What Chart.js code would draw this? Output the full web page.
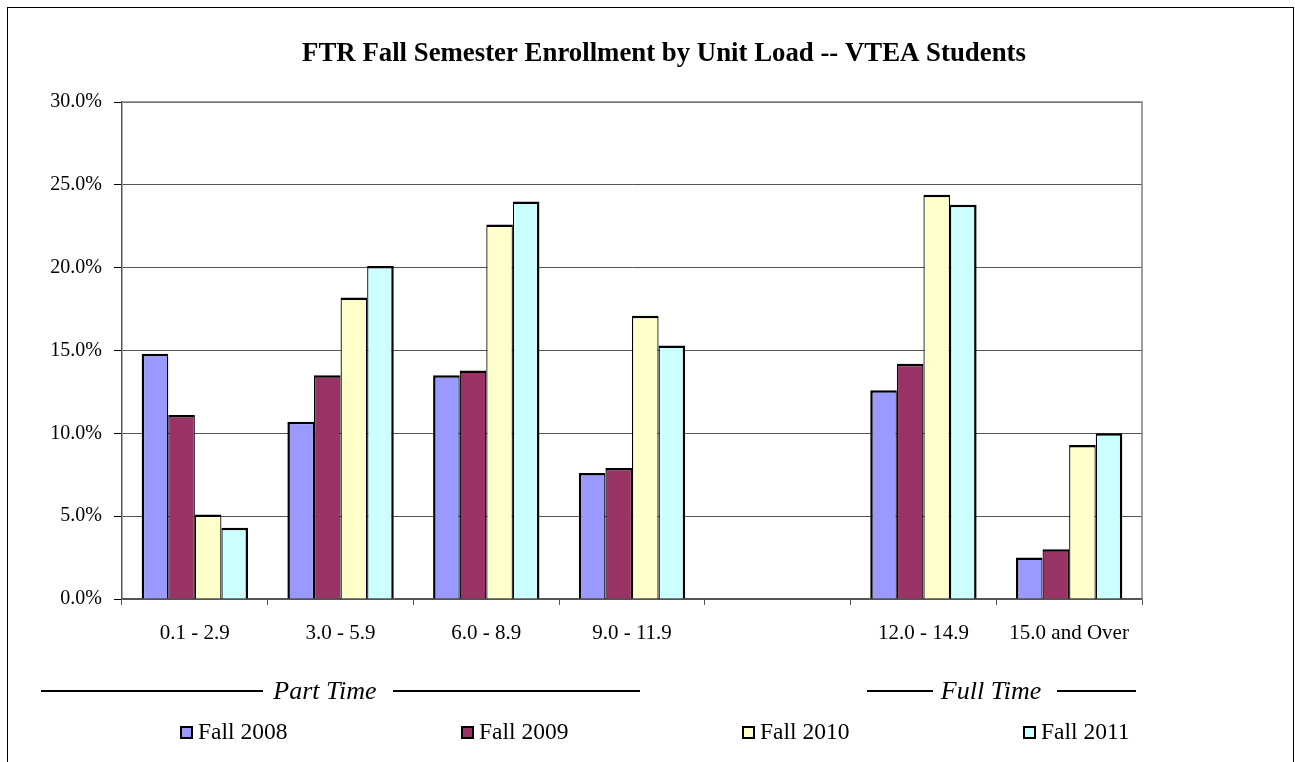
<!DOCTYPE html>
<html lang="en">
<head>
<meta charset="UTF-8">
<title>FTR Fall Semester Enrollment by Unit Load -- VTEA Students</title>
<script src="https://cdn.jsdelivr.net/npm/chart.js"></script>
<style>
    html, body { margin: 0; padding: 0; background: #fff; }
    .chart-container { width: 1295px; height: 762px; position: relative; }
</style>
</head>
<body>
<div class="chart-container">
    <canvas id="enrollChart" width="1295" height="762"></canvas>
</div>
<script>
const categories = ['0.1 - 2.9', '3.0 - 5.9', '6.0 - 8.9', '9.0 - 11.9', '', '12.0 - 14.9', '15.0 and Over'];
const fall2008 = [14.8, 10.7, 13.5, 7.6, null, 12.6, 2.5];
const fall2009 = [11.1, 13.5, 13.8, 7.9, null, 14.2, 3.0];
const fall2010 = [5.1, 18.2, 22.6, 17.1, null, 24.4, 9.3];
const fall2011 = [4.3, 20.1, 24.0, 15.3, null, 23.8, 10.0];
const seriesNames = ['Fall 2008', 'Fall 2009', 'Fall 2010', 'Fall 2011'];
const seriesColors = ['#9999FF', '#993366', '#FFFFCC', '#CCFFFF'];
const yMin = 0, yMax = 30, yStep = 5;
const titleText = 'FTR Fall Semester Enrollment by Unit Load -- VTEA Students';

const serif = "'Liberation Serif', 'Times New Roman', serif";

// bars touch inside a group, so neighbours share the outline between them
function sideWidths(i) {
    return {
        left: i === 0 ? 2.5 : 1.25,
        right: i === seriesNames.length - 1 ? 2.5 : 1.25,
        top: 2.5,
        bottom: 0
    };
}

const allSeries = [fall2008, fall2009, fall2010, fall2011];
const datasets = allSeries.map((vals, i) => ({
    label: seriesNames[i],
    data: vals,
    backgroundColor: seriesColors[i],
    borderColor: '#000',
    borderWidth: sideWidths(i),
    borderSkipped: false,
    inflateAmount: 0,
    categoryPercentage: 0.73,
    barPercentage: 1.0
}));

// extra drawing: title, frames, Part/Full time brackets, legend
const decorations = {
    id: 'decorations',
    beforeDatasetsDraw(chart) {
        const { ctx, chartArea: a } = chart;
        ctx.save();
        ctx.strokeStyle = '#808080';
        ctx.lineWidth = 1.5;
        ctx.beginPath();
        ctx.moveTo(a.left, a.top);
        ctx.lineTo(a.right, a.top);
        ctx.lineTo(a.right, a.bottom);
        ctx.stroke();
        ctx.restore();
    },
    afterDraw(chart) {
        const ctx = chart.ctx;
        ctx.save();

        // outer frame
        ctx.strokeStyle = '#000';
        ctx.lineWidth = 1;
        ctx.strokeRect(7.5, 7.5, 1286, 800);

        // title
        ctx.fillStyle = '#000';
        ctx.font = 'bold 26.8px ' + serif;
        ctx.textAlign = 'center';
        ctx.textBaseline = 'middle';
        ctx.fillText(titleText, 664, 54);

        // Part Time / Full Time brackets
        const brackets = [
            { text: 'Part Time', x: 325, segs: [[41, 263], [393, 640]] },
            { text: 'Full Time', x: 991, segs: [[867, 933], [1057, 1136]] }
        ];
        ctx.font = 'italic 26px ' + serif;
        ctx.lineWidth = 2;
        brackets.forEach(b => {
            ctx.fillText(b.text, b.x, 692);
            ctx.beginPath();
            b.segs.forEach(([x1, x2]) => {
                ctx.moveTo(x1, 691);
                ctx.lineTo(x2, 691);
            });
            ctx.stroke();
        });

        // legend
        ctx.font = '23.5px ' + serif;
        ctx.textAlign = 'left';
        chart.data.datasets.forEach((ds, i) => {
            const x = 180 + i * 281;
            ctx.fillStyle = ds.backgroundColor;
            ctx.fillRect(x, 726, 13, 13);
            ctx.lineWidth = 2;
            ctx.strokeStyle = '#000';
            ctx.strokeRect(x + 1, 727, 11, 11);
            ctx.fillStyle = '#000';
            ctx.fillText(ds.label, x + 18, 733);
        });
        ctx.restore();
    }
};

new Chart(document.getElementById('enrollChart'), {
    type: 'bar',
    data: { labels: categories, datasets: datasets },
    options: {
        responsive: false,
        animation: false,
        devicePixelRatio: 1,
        layout: { padding: { left: 0, right: 153, top: 102, bottom: 0 } },
        plugins: {
            legend: { display: false },
            tooltip: { enabled: false },
            title: { display: false }
        },
        scales: {
            x: {
                afterFit: s => { s.height = 163; },
                grid: {
                    offset: true,
                    drawOnChartArea: false,
                    tickLength: 6,
                    tickColor: '#555'
                },
                border: { color: '#555', width: 1.5 },
                ticks: {
                    color: '#000',
                    padding: 16,
                    maxRotation: 0,
                    autoSkip: false,
                    font: { family: serif, size: 21 }
                }
            },
            y: {
                min: yMin,
                max: yMax,
                afterFit: s => { s.width = 122; },
                grid: {
                    color: '#555',
                    tickLength: 8,
                    tickColor: '#000'
                },
                border: { color: '#555', width: 1.5 },
                ticks: {
                    stepSize: yStep,
                    color: '#000',
                    padding: 12,
                    font: { family: serif, size: 20 },
                    callback: v => v.toFixed(1) + '%'
                }
            }
        }
    },
    plugins: [decorations]
});
</script>
</body>
</html>
